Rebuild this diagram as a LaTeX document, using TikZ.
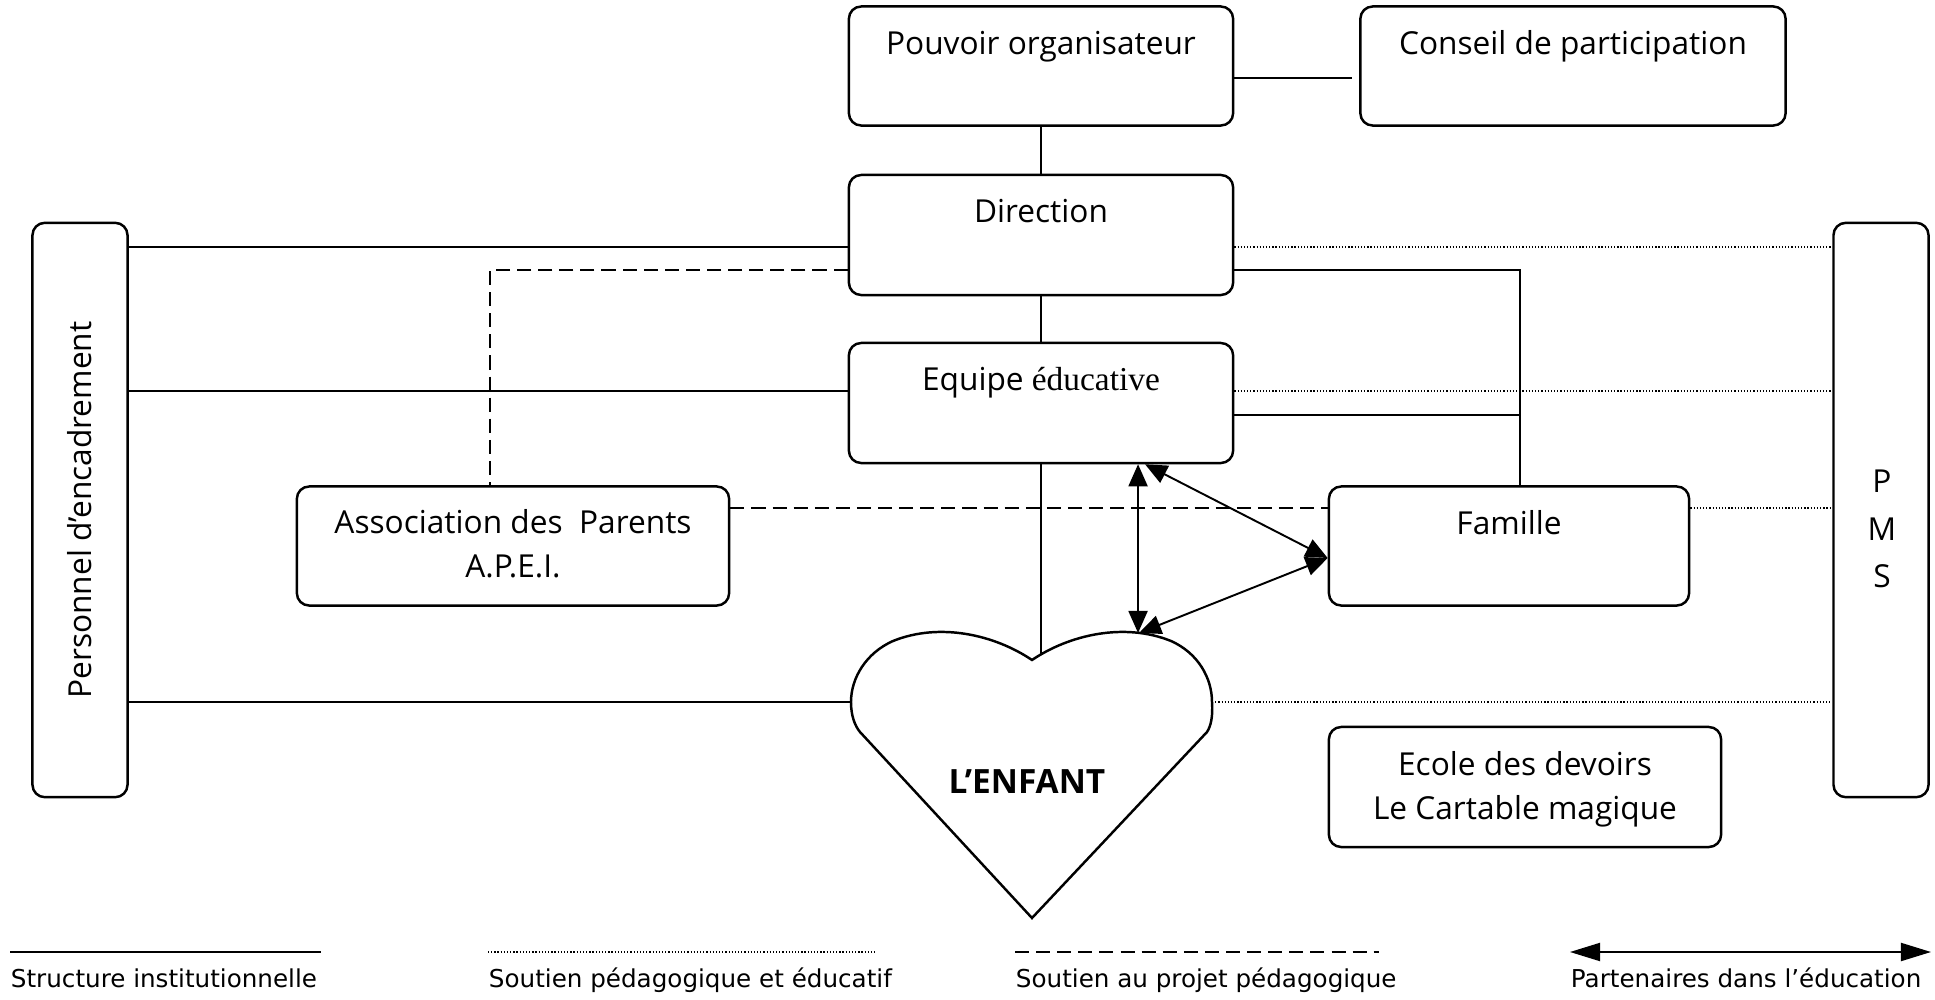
\documentclass[tikz,border=0pt]{standalone}
\usepackage{fontspec}
\setmainfont{Open Sans}
\newfontfamily\legendefont{DejaVu Sans}
\newfontfamily\timesfont{Liberation Serif}
\usetikzlibrary{positioning,arrows.meta}

\begin{document}
\begin{tikzpicture}[x=0.01cm,y=-0.01cm,line width=0.55pt,
  cadre/.style={draw,line width=0.7pt,rounded corners=3.5pt,inner sep=0pt},
  titre/.style={anchor=base,inner sep=0pt,align=center,font=\fontsize{9}{12.5}\selectfont},
  legende/.style={anchor=base west,inner sep=0pt,font=\legendefont\fontsize{7}{8}\selectfont},
  soutien/.style={line width=0.4pt,dash pattern=on 0.35pt off 0.55pt},
  projet/.style={dash pattern=on 4pt off 2pt},
  partenaire/.style={{Triangle[length=0.22cm,width=0.19cm]}-{Triangle[length=0.22cm,width=0.19cm]}},
  grandefleche/.style={{Triangle[length=0.3cm,width=0.18cm]}-{Triangle[length=0.3cm,width=0.18cm]}}]
\useasboundingbox (0,0) rectangle (1935,1000);

\node[cadre,minimum width=3.84cm,minimum height=1.19cm] (pouvoir) at (1041,66) {};
\node[titre] (tpouvoir) at ([yshift=-0.49cm]pouvoir.north) {Pouvoir organisateur};
\node[cadre,minimum width=4.25cm,minimum height=1.19cm] (conseil) at (1573,66) {};
\node[titre] (tconseil) at ([yshift=-0.49cm]conseil.north) {Conseil de participation};
\node[cadre,minimum width=3.84cm,minimum height=1.20cm] (direction) at (1041,235) {};
\node[titre] (tdirection) at ([yshift=-0.49cm]direction.north) {Direction};
\node[cadre,minimum width=3.84cm,minimum height=1.20cm] (equipe) at (1041,403) {};
\node[titre] (tequipe) at ([yshift=-0.49cm]equipe.north) {Equipe {\timesfont\fontsize{9.5}{11}\selectfont éducative}};
\node[cadre,minimum width=0.95cm,minimum height=5.74cm] (personnel) at (80,510) {};
\node[rotate=90,font=\fontsize{9}{11}\selectfont] (tpersonnel) at (personnel.center) {Personnel d'encadrement};
\node[cadre,minimum width=0.95cm,minimum height=5.74cm] (pms) at (1881,510) {};
\node[align=center,font=\fontsize{9}{13.5}\selectfont] (tpms) at (1882,529) {P\\M\\S};
\node[cadre,minimum width=4.32cm,minimum height=1.19cm] (apei) at (513,546) {};
\node[titre] (tapei) at ([yshift=-0.92cm]apei.north) {Association des~~Parents\\A.P.E.I.};
\node[cadre,minimum width=3.60cm,minimum height=1.19cm] (famille) at (1509,546) {};
\node[titre] (tfamille) at ([yshift=-0.49cm]famille.north) {Famille};
\node[cadre,minimum width=3.92cm,minimum height=1.20cm] (ecole) at (1525,787) {};
\node[titre] (tecole) at ([yshift=-0.94cm]ecole.north) {Ecole des devoirs\\Le Cartable magique};

\draw[line width=0.7pt] (1032,660) .. controls (995,635) and (940,622) .. (893,641)
  .. controls (866,653) and (851,678) .. (851,702) .. controls (851,716) and (855,726) .. (860,732)
  -- (1032,918) -- (1207,732) .. controls (1211,726) and (1213,716) .. (1212,702)
  .. controls (1212,678) and (1198,653) .. (1171,641) .. controls (1124,622) and (1069,635) .. cycle;
\node[font=\bfseries\fontsize{9.5}{11}\selectfont] (enfant) at (1027,782) {L'ENFANT};
\coordinate (coeurg) at (851,702);
\coordinate (coeurd) at (1212,702);
\coordinate (coeurv) at (1041,654);
\coordinate (coeurh) at (1139,633);

\coordinate (dirg) at ([yshift=-0.12cm]direction.west);
\coordinate (dirr) at ([yshift=-0.12cm]direction.east);
\coordinate (dirb) at ([yshift=-0.35cm]direction.west);
\coordinate (dird) at ([yshift=-0.35cm]direction.east);
\coordinate (eqg) at ([yshift=0.12cm]equipe.west);
\coordinate (eqr) at ([yshift=0.12cm]equipe.east);
\coordinate (eqd) at ([yshift=-0.12cm]equipe.east);
\coordinate (eqa) at ([xshift=0.97cm]equipe.south);
\coordinate (eqb) at ([xshift=1.04cm]equipe.south);
\coordinate (famh) at ([xshift=0.11cm]famille.north);
\coordinate (famg) at ([yshift=-0.12cm]famille.west);
\coordinate (apeih) at ([xshift=-0.23cm]apei.north);

\draw ([yshift=-0.12cm]pouvoir.east) -- ([yshift=-0.12cm,xshift=-0.07cm]conseil.west);
\draw (pouvoir) -- (direction);
\draw (direction) -- (equipe);
\draw (equipe.south) -- (coeurv);
\draw (personnel.east |- dirg) -- (dirg);
\draw (personnel.east |- eqg) -- (eqg);
\draw (personnel.east |- coeurg) -- (coeurg);
\draw (dird) -| (famh);
\draw (eqd) -- (eqd -| famh);

\draw[soutien] (dirr) -- (dirr -| pms.west);
\draw[soutien] (eqr) -- (eqr -| pms.west);
\draw[soutien] ([yshift=0.38cm]famille.east) -- ([yshift=0.38cm]famille.east -| pms.west);
\draw[soutien] (coeurd) -- (coeurd -| pms.west);

\draw[projet] (dirb) -| (apeih);
\draw[projet] ([yshift=0.38cm]apei.east) -- ([yshift=0.38cm]famille.west);

\draw[partenaire] (eqa) -- (eqa |- coeurh);
\draw[partenaire] (eqb) -- (famg);
\draw[partenaire] (famg) -- (coeurh);

\foreach \i/\xa/\xb/\sty/\txt in {1/10/321/solid/Structure institutionnelle,
  2/488/877/soutien/Soutien pédagogique et éducatif,
  3/1015/1379/projet/Soutien au projet pédagogique,
  4/1570/1931/grandefleche/Partenaires dans l’éducation}
{
\coordinate (la\i) at (\xa,952);
\coordinate (lb\i) at (\xb,952);
\draw[\sty] (la\i) -- (lb\i);
\node[legende] (leg\i) at (\xa,987) {\txt};
}
\end{tikzpicture}
\end{document}
